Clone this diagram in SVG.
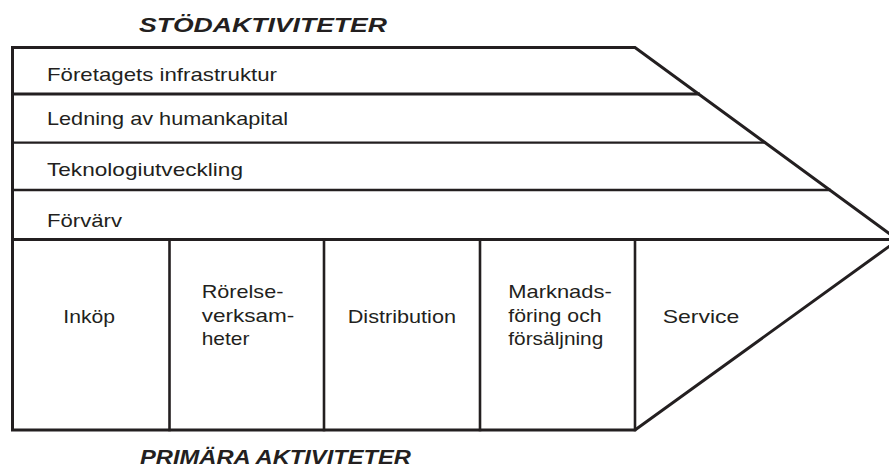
<svg xmlns="http://www.w3.org/2000/svg" width="889" height="469" viewBox="0 0 889 469">
<style>
.ln{stroke:#231f20;fill:none;stroke-linecap:square}
.t{font-family:"Liberation Sans",Arial,sans-serif;font-size:19px;fill:#231f20}
.h{font-family:"Liberation Sans",Arial,sans-serif;font-size:20px;font-weight:bold;font-style:italic;fill:#231f20}
</style>
<rect width="889" height="469" fill="#fff"/>
<text id="title-support" class="h" x="139" y="32" textLength="248" lengthAdjust="spacingAndGlyphs">STÖDAKTIVITETER</text>
<text id="title-primary" class="h" x="140" y="463.5" textLength="271" lengthAdjust="spacingAndGlyphs">PRIMÄRA AKTIVITETER</text>
<g id="frame">
<polygon class="ln" stroke-width="3" stroke-linejoin="miter" points="12.5,47.5 635,47.5 898,240 635,430 12.5,430"/>
</g>
<g id="connectors">
<line class="ln" stroke-width="3" x1="12.5" y1="94" x2="698.5" y2="94"/>
<line class="ln" stroke-width="2.2" x1="12.5" y1="142.7" x2="765" y2="142.7"/>
<line class="ln" stroke-width="2.6" x1="12.5" y1="190" x2="829.7" y2="190"/>
<line class="ln" stroke-width="3" x1="12.5" y1="239.5" x2="889" y2="239.5"/>
<line class="ln" stroke-width="2.6" x1="169.5" y1="239.5" x2="169.5" y2="430"/>
<line class="ln" stroke-width="2.6" x1="324" y1="239.5" x2="324" y2="430"/>
<line class="ln" stroke-width="2.6" x1="480" y1="239.5" x2="480" y2="430"/>
<line class="ln" stroke-width="2.6" x1="635" y1="239.5" x2="635" y2="430"/>
</g>
<g id="foretagets-infrastruktur"><text class="t" x="47" y="80.7" textLength="230" lengthAdjust="spacingAndGlyphs">Företagets infrastruktur</text></g>
<g id="ledning-av-humankapital"><text class="t" x="47" y="125.3" textLength="241" lengthAdjust="spacingAndGlyphs">Ledning av humankapital</text></g>
<g id="teknologiutveckling"><text class="t" x="47" y="176" textLength="196" lengthAdjust="spacingAndGlyphs">Teknologiutveckling</text></g>
<g id="forvarv"><text class="t" x="47" y="226.7" textLength="75" lengthAdjust="spacingAndGlyphs">Förvärv</text></g>
<g id="inkop"><text class="t" x="63.3" y="323.3" textLength="51.7" lengthAdjust="spacingAndGlyphs">Inköp</text></g>
<g id="rorelseverksamheter">
<text class="t" x="201.7" y="298.3" textLength="81.7" lengthAdjust="spacingAndGlyphs">Rörelse-</text>
<text class="t" x="201.7" y="321.7" textLength="92.7" lengthAdjust="spacingAndGlyphs">verksam-</text>
<text class="t" x="201.7" y="345" textLength="47.7" lengthAdjust="spacingAndGlyphs">heter</text>
</g>
<g id="distribution"><text class="t" x="347.7" y="323.3" textLength="108.3" lengthAdjust="spacingAndGlyphs">Distribution</text></g>
<g id="marknadsforing">
<text class="t" x="508.3" y="298.3" textLength="103.4" lengthAdjust="spacingAndGlyphs">Marknads-</text>
<text class="t" x="508.3" y="321.7" textLength="93.3" lengthAdjust="spacingAndGlyphs">föring och</text>
<text class="t" x="508.3" y="345" textLength="95" lengthAdjust="spacingAndGlyphs">försäljning</text>
</g>
<g id="service"><text class="t" x="662.7" y="323.3" textLength="76.6" lengthAdjust="spacingAndGlyphs">Service</text></g>
</svg>
